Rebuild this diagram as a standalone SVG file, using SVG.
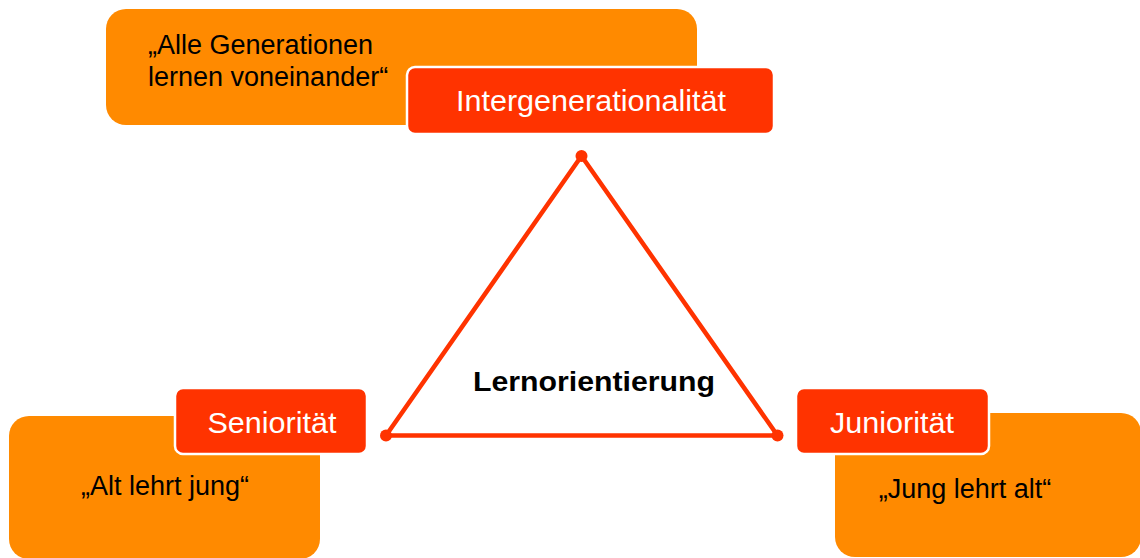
<svg xmlns="http://www.w3.org/2000/svg" width="1140" height="558" viewBox="0 0 1140 558">
<style>
.ob{fill:#FF8A00;}
.rb{fill:#FF3300;stroke:#FFFFFF;stroke-width:2.5;}
.ot{font-family:"Liberation Sans",Arial,sans-serif;font-size:27px;fill:#000000;}
.rt{font-family:"Liberation Sans",Arial,sans-serif;font-size:30px;fill:#FFFFFF;text-anchor:middle;}
.edge{stroke:#FF3300;stroke-width:4.5;stroke-linecap:round;fill:none;}
.dot{fill:#FF3300;}
</style>
<rect width="1140" height="558" fill="#FFFFFF"/>
<g id="connectors">
<line class="edge" x1="581.5" y1="156" x2="386" y2="435.5"/>
<line class="edge" x1="581.5" y1="156" x2="777.5" y2="435.5"/>
<line class="edge" x1="386" y1="435.5" x2="777.5" y2="435.5"/>
<circle class="dot" cx="581.5" cy="156" r="6"/>
<circle class="dot" cx="386" cy="435.5" r="6"/>
<circle class="dot" cx="777.5" cy="435.5" r="6"/>
</g>
<g id="node-intergen">
<rect class="ob" x="106" y="9" width="591" height="116" rx="20"/>
<text class="ot" x="148" y="54">„Alle Generationen</text>
<text class="ot" x="148" y="86">lernen voneinander“</text>
<rect class="rb" x="407" y="67" width="367" height="67" rx="8"/>
<text class="rt" x="591" y="111" font-size="29" textLength="270" lengthAdjust="spacingAndGlyphs">Intergenerationalität</text>
</g>
<g id="node-center">
<text x="594" y="391" font-family="Liberation Sans,Arial,sans-serif" font-size="27" font-weight="bold" text-anchor="middle" textLength="242" lengthAdjust="spacingAndGlyphs" fill="#000000">Lernorientierung</text>
</g>
<g id="node-senioritaet">
<rect class="ob" x="9" y="416" width="311" height="143" rx="20"/>
<text class="ot" x="165" y="495" text-anchor="middle">„Alt lehrt jung“</text>
<rect class="rb" x="175" y="388" width="192" height="66" rx="8"/>
<text class="rt" x="272" y="433" textLength="129" lengthAdjust="spacingAndGlyphs">Seniorität</text>
</g>
<g id="node-junioritaet">
<rect class="ob" x="835" y="413" width="306" height="144" rx="20"/>
<text class="ot" x="965" y="498" text-anchor="middle">„Jung lehrt alt“</text>
<rect class="rb" x="796" y="388" width="193" height="66" rx="8"/>
<text class="rt" x="892" y="433" textLength="124" lengthAdjust="spacingAndGlyphs">Juniorität</text>
</g>
</svg>
